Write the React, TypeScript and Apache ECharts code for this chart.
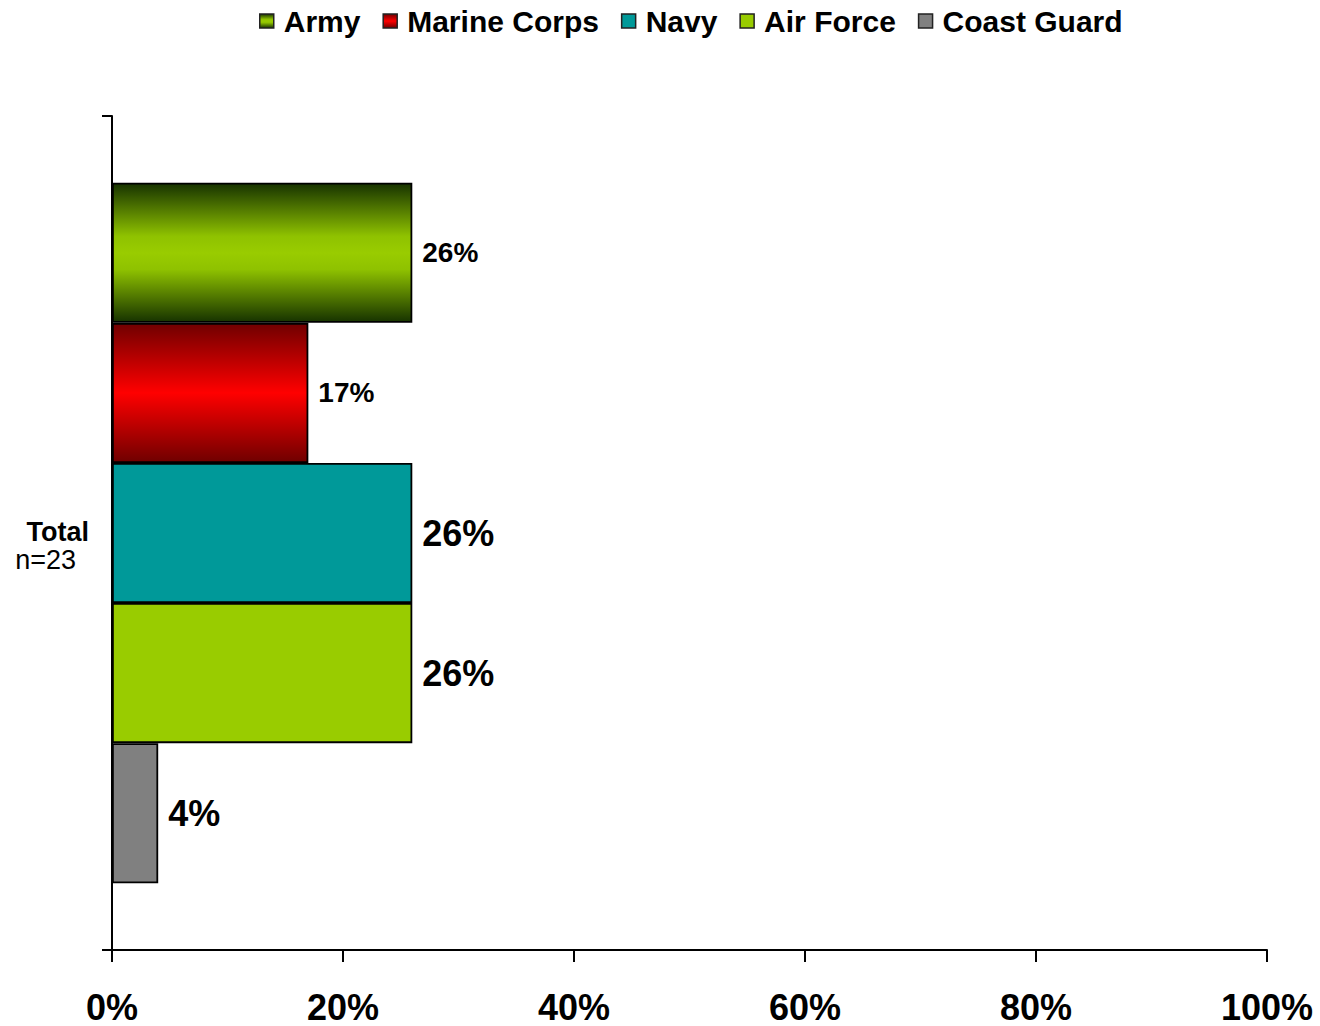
import React, { useEffect, useRef } from "react";
import * as echarts from "echarts";

const categories = ["Total"];
const sampleLabel = "n=23";
const services = ["Army", "Marine Corps", "Navy", "Air Force", "Coast Guard"];
const values = [26, 17, 26, 26, 4];
const xTicks = [0, 20, 40, 60, 80, 100];

const FONT = "'Liberation Sans', Arial, sans-serif";

const fills: any[] = [
  new echarts.graphic.LinearGradient(0, 0, 0, 1, [
    { offset: 0, color: "#173300" },
    { offset: 0.38, color: "#8fc200" },
    { offset: 0.5, color: "#99cc00" },
    { offset: 0.62, color: "#8fc200" },
    { offset: 1, color: "#173300" },
  ]),
  new echarts.graphic.LinearGradient(0, 0, 0, 1, [
    { offset: 0, color: "#700000" },
    { offset: 0.5, color: "#ff0000" },
    { offset: 1, color: "#700000" },
  ]),
  "#009999",
  "#99cc00",
  "#808080",
];
const labelSizes = [28, 28, 36, 36, 36];

export default function App() {
  const ref = useRef<HTMLDivElement>(null);
  useEffect(() => {
    if (!ref.current) return;
    const chart = echarts.init(ref.current, null, { renderer: "svg" });
    const series = services.map((name, i) => ({
      name,
      type: "bar",
      data: [values[i]],
      barGap: "0%",
      barCategoryGap: "16%",
      itemStyle: { color: fills[i], borderColor: "#000", borderWidth: 1.8 },
      label: {
        show: true,
        position: "right",
        distance: 10,
        formatter: "{c}%",
        color: "#000",
        fontWeight: "bold",
        fontSize: labelSizes[i],
        fontFamily: FONT,
      },
    }));
    chart.setOption({
      animation: false,
      backgroundColor: "#fff",
      legend: {
        data: services,
        top: 1,
        left: 254,
        itemWidth: 14,
        itemHeight: 14,
        itemGap: 22,
        icon: "rect",
        itemStyle: { borderColor: "#222", borderWidth: 1.5 },
        textStyle: { fontSize: 30, fontWeight: "bold", fontFamily: FONT, color: "#000", padding: [0, 0, 0, 5] },
      },
      grid: { left: 112, right: 53, top: 116, bottom: 76, containLabel: false },
      xAxis: {
        type: "value",
        min: xTicks[0],
        max: xTicks[xTicks.length - 1],
        interval: 20,
        axisLine: { show: true, lineStyle: { color: "#000", width: 2 } },
        axisTick: { show: true, length: 12, lineStyle: { color: "#000", width: 2 } },
        splitLine: { show: false },
        axisLabel: {
          formatter: "{value}%",
          fontSize: 36,
          lineHeight: 34,
          fontWeight: "bold",
          fontFamily: FONT,
          color: "#000",
          margin: 40,
        },
      },
      yAxis: {
        type: "category",
        data: categories,
        axisLine: { show: true, lineStyle: { color: "#000", width: 2 } },
        axisTick: { show: true, length: 10, lineStyle: { color: "#000", width: 2 } },
        axisLabel: {
          margin: 23,
          formatter: (v: string) => `{a|${v}}\n{b|${sampleLabel}}`,
          padding: [26, 0, 0, 0],
          rich: {
            a: { fontSize: 27, fontWeight: "bold", fontFamily: FONT, color: "#000", lineHeight: 28 },
            b: { fontSize: 27, fontFamily: FONT, color: "#000", lineHeight: 28, padding: [0, 13, 0, 0] },
          },
        },
      },
      series,
    });
    return () => chart.dispose();
  }, []);
  return (
    <div
      ref={ref}
      style={{ position: "absolute", left: 0, top: 0, width: 1320, height: 1026 }}
    />
  );
}
